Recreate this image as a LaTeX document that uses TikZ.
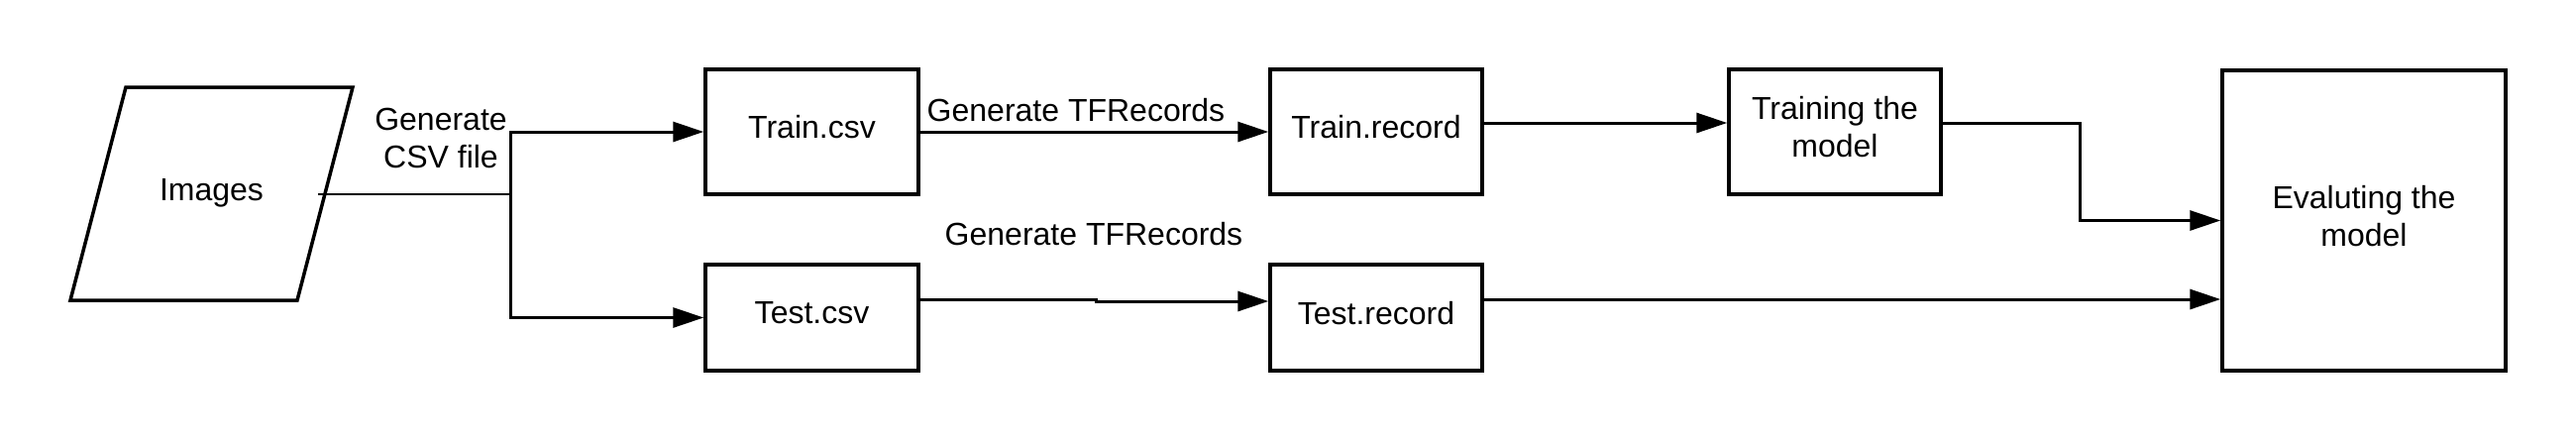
\documentclass[tikz,border=0pt]{standalone}
\usepackage{fontspec}
\setmainfont{Liberation Sans}
\usetikzlibrary{arrows.meta,calc}
\begin{document}
\begin{tikzpicture}[x=1pt,y=-1pt,
  every node/.style={font=\fontsize{32}{38}\selectfont, inner sep=0pt},
  boxnode/.style={draw, line width=3.5pt, align=center, text depth=10pt},
  arr/.style={line width=3pt, -{Triangle[length=31pt,width=20pt]}},
  plain/.style={line width=3pt},
  thin/.style={line width=2pt}]
\useasboundingbox (0,0) rectangle (2600,445);
% Images parallelogram
\draw[line width=3.5pt, line join=miter] (127,88) -- (356,88) -- (300,303) -- (71,303) -- cycle;
\node (img) at (213.5,195) {Images};
\coordinate (imgout) at (321,196);
\coordinate (split) at (515,196);
% boxes
\node[boxnode, minimum width=215pt, minimum height=126pt] (traincsv) at (819.5,133) {Train.csv};
\node[boxnode, minimum width=215pt, minimum height=107pt] (testcsv) at (819.5,320.5) {Test.csv};
\node[boxnode, minimum width=214pt, minimum height=126pt] (trainrec) at (1389,133) {Train.record};
\node[boxnode, minimum width=214pt, minimum height=107pt] (testrec) at (1389,320.5) {Test.record};
\node[boxnode, minimum width=214pt, minimum height=126pt] (training) at (1852,133) {Training the\\model};
\node[boxnode, minimum width=286pt, minimum height=303pt] (eval) at (2386,222.5) {Evaluting the\\model};
% labels
\node[align=center] (lcsv) at (445,139) {Generate\\CSV file};
\node (ltf1) at (1086,111) {Generate TFRecords};
\node (ltf2) at (1104,236) {Generate TFRecords};
% connectors
\draw[thin] (imgout) -- (split);
\draw[arr] (split) |- (traincsv.west);
\draw[arr] (split) |- (testcsv.west);
\draw[arr] (traincsv.east) -- (trainrec.west);
\coordinate (tc) at ([yshift=18.5pt]testcsv.east);
\draw[arr] (tc) -- ++(178,0) |- ([yshift=16.5pt]testrec.west);
\draw[arr] ([yshift=9pt]trainrec.east) -- ([yshift=9pt]training.west);
\draw[arr] ([yshift=9pt]training.east) -- ++(139,0) |- (eval.west);
\coordinate (tr) at ([yshift=18.5pt]testrec.east);
\draw[arr] (tr) -- (tr -| eval.west);
\end{tikzpicture}
\end{document}
